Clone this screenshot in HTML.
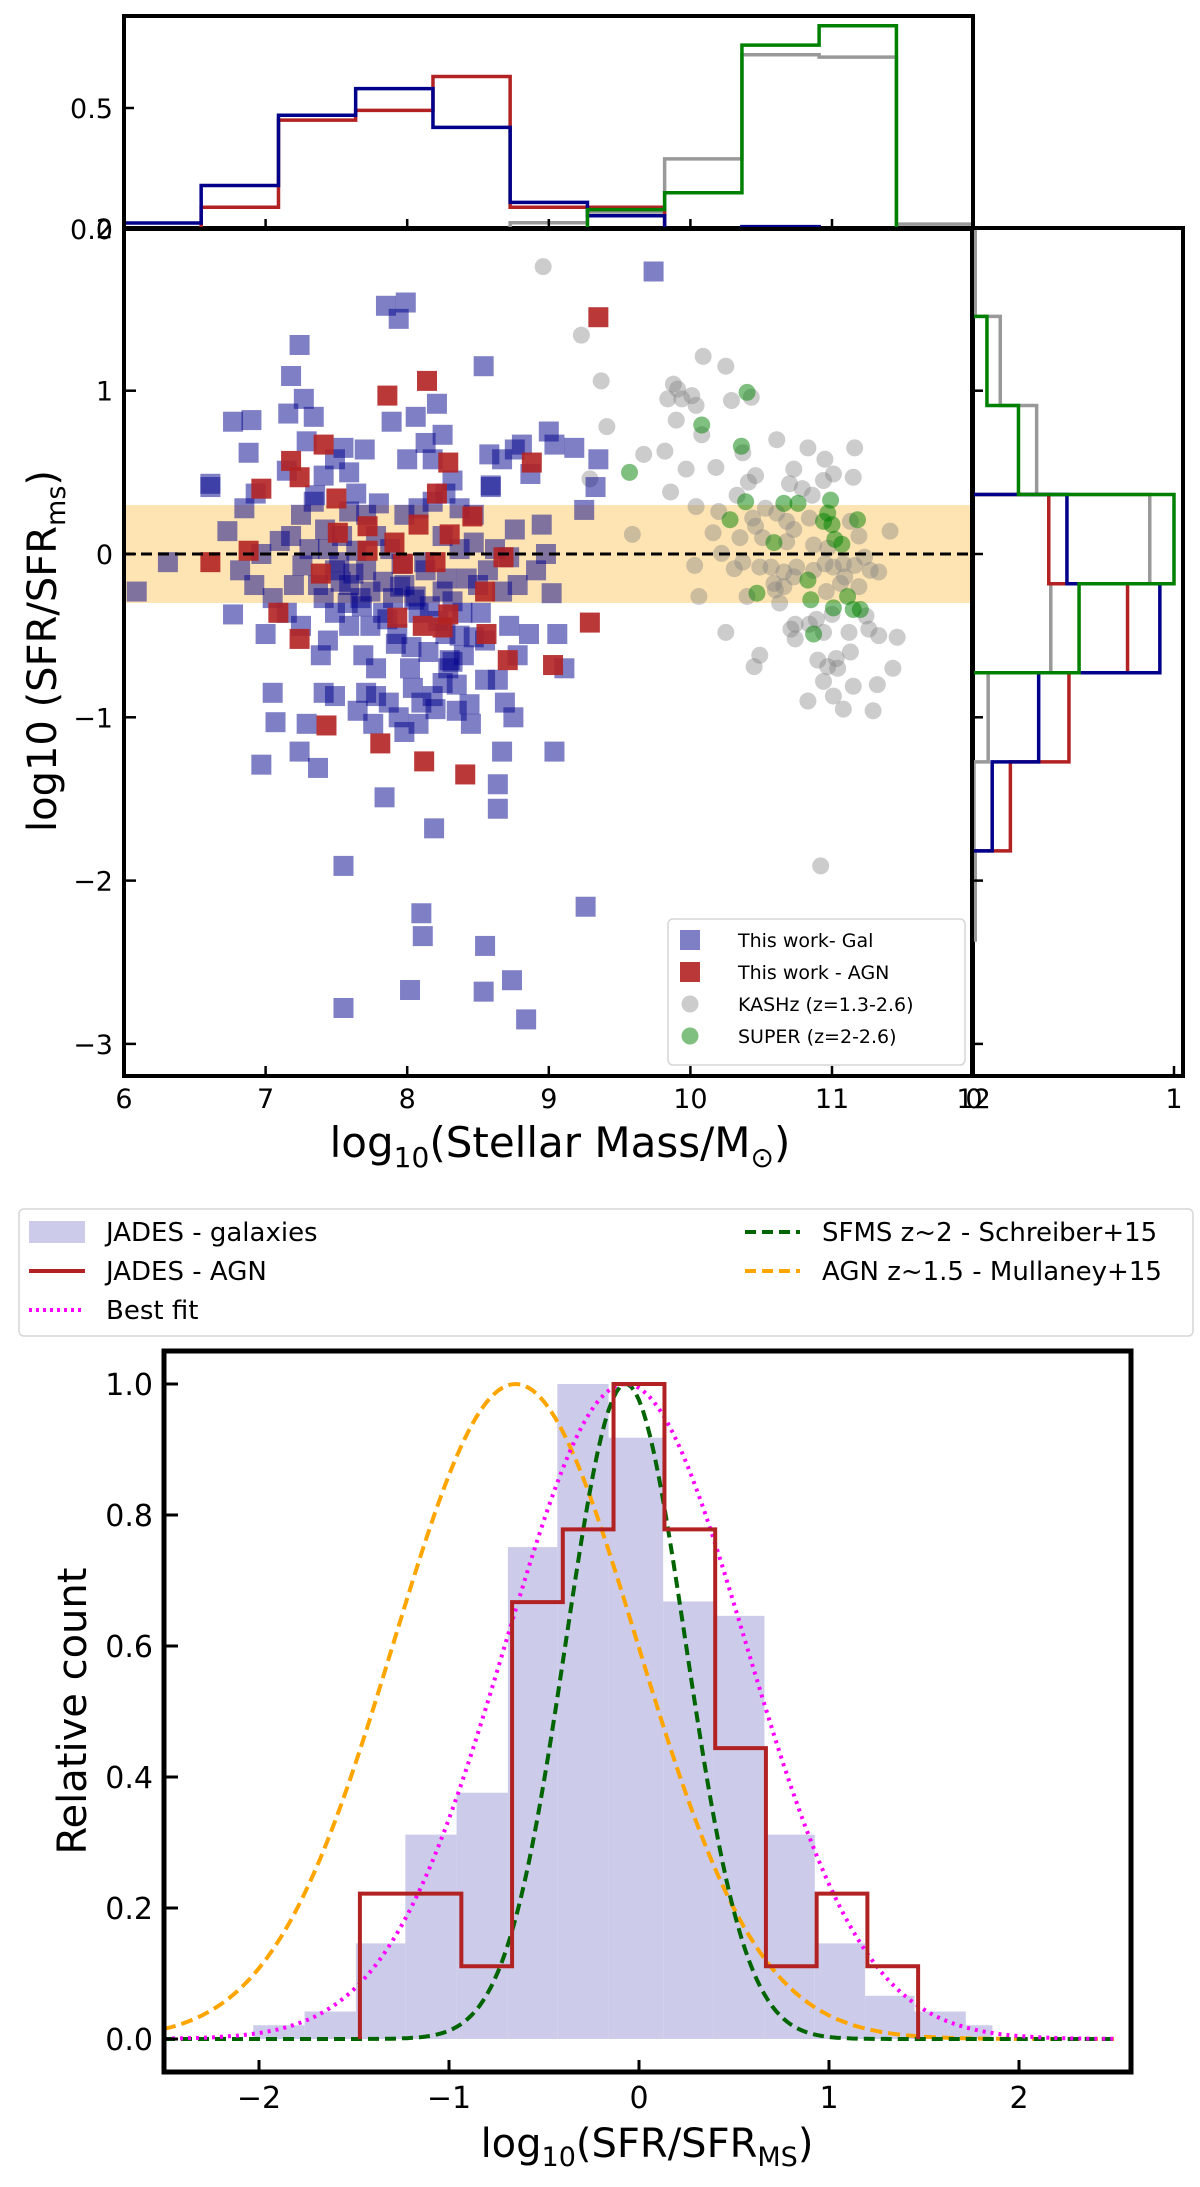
<!DOCTYPE html>
<html><head><meta charset="utf-8"><style>
html,body{margin:0;padding:0;background:#fff;}
svg{display:block;font-family:"DejaVu Sans","Liberation Sans",sans-serif;}
</style></head><body>
<svg id="fig" width="1200" height="2187" viewBox="0 0 1200 2187" xmlns="http://www.w3.org/2000/svg">
<defs>
<clipPath id="cs"><rect x="124" y="228" width="849" height="848"/></clipPath>
<clipPath id="ct"><rect x="124" y="16" width="849" height="213"/></clipPath>
<clipPath id="cr"><rect x="972" y="228" width="211" height="848"/></clipPath>
<clipPath id="cb"><rect x="164" y="1351" width="967" height="721"/></clipPath>
</defs>
<g id="scatter"></g>
<g id="tophist"></g>
<g id="righthist"></g>
<g id="bottom"></g>
</svg>
<script>
// ---------- scatter data ----------
const blueMass=[6.09,6.31,6.61,6.77,6.73,6.85,6.88,6.90,6.93,6.97,7.00,7.05,7.10,7.15,7.26,7.29,7.35,7.37,7.42,7.44,7.49,7.53,7.55,7.59,7.64,7.67,7.71,7.74,7.76,7.78,7.80,7.98,8.03,8.08,8.10,8.13,8.18,8.25,8.27,8.29,8.32,8.37,8.42,8.47,8.50,8.55,8.62,8.64,8.67,8.72,8.78,8.87,8.98,9.04,9.25,9.33,9.35,9.74,
7.85,7.99,7.94,7.24,7.18,7.27,7.16,7.34,6.77,8.54,8.21,7.89,8.25,9.00,8.58,8.76,8.59,6.61,7.70,8.95,
7.55,8.10,8.11,8.19,7.55,8.02,8.55,8.54,8.74,8.84,8.64,8.64,9.26,7.84,7.24,6.97,7.37,7.07,
7.29,7.41,7.65,7.71,7.87,7.94,7.98,8.04,8.18,8.25,8.32,8.40,8.47,8.52,8.55,8.37,8.22,8.08,7.93,7.83,7.69,7.59,7.49,7.41,7.49,7.59,7.74,7.83,7.90,7.98,8.06,8.16,8.25,8.32,8.39,7.96,7.88,7.78,7.71,7.64,7.59,7.49,7.41,7.34,7.25,7.18,8.08,8.18,8.27,8.37,8.47,8.57,8.67,8.72,8.78,8.86,8.76,8.91,9.02,9.06,9.11,8.69,8.75,8.35,8.45,7.78,7.39,7.25,7.15,7.05,6.92,6.82,7.20,7.31,7.44,7.54,8.13,8.00,8.06,8.59,8.67,8.81,9.18,9.04,
7.95,8.05,7.62,7.68,8.12,8.28,7.86,7.92,8.02,8.15,8.35,8.44,7.52,7.58,8.20,8.30];
const blueSfr=[-0.23,-0.05,0.43,-0.37,0.14,0.28,0.62,0.82,0.37,0.00,-0.49,-0.85,0.08,0.51,-0.07,0.69,0.36,-0.19,0.15,-0.53,-0.87,-0.17,0.65,0.26,0.02,-0.27,-0.10,-0.44,-1.04,-0.70,0.31,0.24,-0.57,-1.04,-0.91,-0.10,0.58,0.11,-0.49,-0.70,0.45,0.03,-0.15,0.24,-0.19,-0.53,0.03,-0.77,-1.21,-0.02,-0.19,0.49,0.00,-1.21,0.27,0.41,0.58,1.73,
1.52,1.54,1.44,1.28,1.09,0.95,0.86,0.84,0.81,1.15,0.92,0.81,0.73,0.75,0.61,0.64,0.42,0.41,0.64,0.18,
-1.91,-2.20,-2.34,-1.68,-2.78,-2.67,-2.40,-2.68,-2.61,-2.85,-1.41,-1.56,-2.16,-1.49,-1.21,-1.29,-1.31,-1.03,
-1.04,-0.85,-0.96,-0.85,-0.91,-1.00,-1.09,-0.82,-0.87,-0.79,-0.66,-0.62,-0.51,-0.36,-0.77,-0.50,-0.41,-0.36,-0.49,-0.36,-0.62,-0.44,-0.36,-0.27,-0.10,-0.19,-0.23,-0.17,-0.27,-0.19,-0.26,-0.32,-0.23,-0.29,-0.36,-0.06,0.03,0.11,0.24,0.37,0.50,0.58,0.48,0.32,0.24,0.11,0.28,0.32,0.37,0.28,0.07,-0.10,-0.23,-0.44,-0.62,-0.49,0.15,-0.10,-0.24,-0.49,-0.70,-0.91,-1.00,-0.96,-1.04,-0.87,-0.62,-0.44,-0.36,-0.27,-0.19,-0.10,-0.19,0.03,0.03,0.11,0.68,0.58,0.84,0.41,0.58,0.67,0.65,0.67,
-0.20,-0.28,-0.12,-0.32,-0.05,-0.15,-0.40,-0.55,-0.70,-0.60,-0.80,-0.92,-0.05,-0.30,-0.95,-0.65];
const redMass=[7.86,8.14,8.21,8.29,8.46,8.88,7.41,7.18,7.24,6.97,6.88,7.50,7.51,7.72,7.72,7.91,8.08,8.30,7.97,8.20,8.68,7.39,8.55,7.09,7.93,8.11,8.29,8.25,7.24,8.56,8.71,9.03,7.43,7.81,8.12,8.41,9.35,9.29,6.61];
const redSfr=[0.97,1.06,0.37,0.56,0.23,0.56,0.67,0.57,0.47,0.40,0.02,0.34,0.13,0.17,0.02,0.07,0.18,0.12,-0.06,-0.05,-0.02,-0.12,-0.23,-0.36,-0.39,-0.44,-0.37,-0.45,-0.52,-0.49,-0.65,-0.68,-1.05,-1.16,-1.27,-1.35,1.45,-0.42,-0.05];
const kashzMass=[9.23,10.09,10.25,9.37,9.88,9.91,10.01,9.84,9.94,10.04,10.29,10.43,9.90,10.08,9.41,10.61,10.83,11.16,9.67,9.82,9.97,10.18,10.37,10.95,10.73,11.01,11.15,10.46,10.41,10.94,9.86,10.70,10.79,10.86,10.33,10.04,10.20,10.53,10.61,10.68,10.73,10.44,10.46,10.35,9.59,10.16,10.84,11.13,11.19,11.41,10.51,10.68,10.87,10.97,10.22,10.03,10.31,10.37,10.49,10.57,10.66,10.73,10.95,11.01,11.08,11.16,11.23,11.33,11.27,10.59,10.66,10.60,10.75,10.87,11.09,11.19,10.96,10.06,10.40,10.63,11.06,10.89,11.00,11.24,10.74,10.71,10.84,10.25,10.74,10.94,11.12,11.26,11.33,11.46,10.49,10.45,10.90,11.03,10.97,11.04,11.13,11.43,10.94,11.15,11.32,11.01,10.83,11.08,11.29,9.29,8.96,10.92];
const kashzSfr=[1.34,1.21,1.15,1.06,1.04,1.01,0.97,0.95,0.95,0.91,0.94,0.96,0.82,0.73,0.78,0.70,0.65,0.65,0.61,0.63,0.52,0.53,0.62,0.58,0.52,0.49,0.47,0.48,0.44,0.45,0.38,0.43,0.40,0.36,0.36,0.29,0.26,0.28,0.25,0.20,0.15,0.22,0.17,0.10,0.12,0.13,0.22,0.20,0.11,0.14,0.10,0.075,0.055,0.035,0.004,-0.07,-0.09,-0.05,-0.08,-0.08,-0.11,-0.14,-0.06,-0.08,-0.06,-0.07,-0.02,-0.11,-0.10,-0.18,-0.20,-0.22,-0.08,-0.10,-0.14,-0.20,-0.23,-0.26,-0.26,-0.30,-0.18,-0.40,-0.37,-0.38,-0.43,-0.46,-0.43,-0.48,-0.52,-0.48,-0.48,-0.46,-0.50,-0.51,-0.62,-0.69,-0.65,-0.64,-0.69,-0.70,-0.60,-0.70,-0.78,-0.81,-0.80,-0.87,-0.90,-0.95,-0.96,0.46,1.76,-1.91];
const superMass=[10.40,10.08,10.36,9.57,10.39,10.66,10.76,10.99,10.28,10.97,10.94,11.00,11.18,10.59,11.02,11.07,10.83,10.47,10.85,11.11,11.01,11.15,11.20,10.87];
const superSfr=[0.99,0.79,0.66,0.50,0.32,0.31,0.31,0.33,0.21,0.25,0.20,0.18,0.21,0.07,0.09,0.06,-0.16,-0.24,-0.28,-0.26,-0.33,-0.34,-0.34,-0.49];
// ---------- marginal histograms ----------
const massEdges=[6,6.545,7.091,7.636,8.182,8.727,9.273,9.818,10.364,10.909,11.455,12];
const massHistBlue=[0.025,0.18,0.47,0.58,0.42,0.11,0.055,0,0.01,0,0];
const massHistRed=[0,0.09,0.45,0.49,0.63,0.09,0.09,0,0,0,0];
const massHistGrey=[0,0,0,0,0,0.026,0.07,0.29,0.72,0.71,0.02];
const massHistGreen=[0,0,0,0,0,0,0.08,0.15,0.76,0.84,0];
const sfrEdges=[2,1.455,0.909,0.364,-0.182,-0.727,-1.273,-1.818,-2.364,-2.909,-3.455,-4];
const sfrHistGrey=[0.016,0.14,0.32,0.88,0.39,0.08,0.01,0.016,0,0,0];
const sfrHistGreen=[0,0.074,0.23,1.0,0.53,0,0,0,0,0,0];
const sfrHistRed=[0,0,0,0.38,0.77,0.48,0.19,0,0,0,0];
const sfrHistBlue=[0,0,0,0.47,0.93,0.33,0.10,0,0,0,0];
// ---------- bottom panel ----------
const galEdges=[-2.03,-1.76,-1.49,-1.23,-0.96,-0.69,-0.43,-0.16,0.127,0.39,0.66,0.925,1.19,1.45,1.72,1.86];
const galCounts=[0.021,0.042,0.146,0.312,0.376,0.751,1.0,0.918,0.668,0.646,0.312,0.146,0.066,0.042,0.021];
const agnEdges=[-1.469,-1.202,-0.935,-0.668,-0.401,-0.134,0.134,0.401,0.668,0.935,1.202,1.469];
const agnCounts=[0.222,0.222,0.111,0.667,0.778,1.0,0.778,0.444,0.111,0.222,0.111];
const gaussNames=["mullaney","schreiber","bestfit"];
const gaussMu=[-0.65,-0.07,-0.07];
const gaussSigma=[0.64,0.315,0.63];
const xTicksMass=[6,7,8,9,10,11,12];
const yTicksSfr=[1,0,-1,-2,-3];
const bxTicks=[-2,-1,0,1,2];
const byTicks=[0,0.2,0.4,0.6,0.8,1.0];

const NS="http://www.w3.org/2000/svg";
function mk(parent,tag,attrs,text){const e=document.createElementNS(NS,tag);for(const k in attrs)e.setAttribute(k,attrs[k]);if(text!==undefined)e.textContent=text;parent.appendChild(e);return e;}
const fmtMinus=v=>String(v).replace('-','\u2212');

// scales
const X=m=>124+(m-6)*141.6;
const Y=v=>554-v*163.3;
const HY=h=>229-h*242;
const RX=h=>972+h*202;
const BX=v=>639+v*190;
const BY=c=>2039-c*655;

// ================= SCATTER =================
const sc=document.getElementById('scatter');
let e;
e=mk(sc,'rect',{x:124,y:Y(0.3),width:849,height:Y(-0.3)-Y(0.3),fill:'#ffe4b3'});


const pts=mk(sc,'g',{'clip-path':'url(#cs)'});
kashzMass.forEach((m,i)=>{const c=mk(pts,'circle',{cx:X(m),cy:Y(kashzSfr[i]),r:8.5,fill:'#808080','fill-opacity':0.4});

});
superMass.forEach((m,i)=>{const c=mk(pts,'circle',{cx:X(m),cy:Y(superSfr[i]),r:8.5,fill:'#008000','fill-opacity':0.5});

});
blueMass.forEach((m,i)=>{const r=mk(pts,'rect',{x:X(m)-10,y:Y(blueSfr[i])-10,width:20,height:20,fill:'#00008b','fill-opacity':0.5});

});
redMass.forEach((m,i)=>{const r=mk(pts,'rect',{x:X(m)-10,y:Y(redSfr[i])-10,width:20,height:20,fill:'#b22222','fill-opacity':0.9});

});
e=mk(sc,'line',{x1:124,x2:973,y1:Y(0),y2:Y(0),stroke:'#000','stroke-width':3,'stroke-dasharray':'11,6'});


// ticks
xTicksMass.forEach(t=>{
 if(t>6&&t<12) mk(sc,'line',{x1:X(t),x2:X(t),y1:1076,y2:1066,stroke:'#000','stroke-width':2.5});
 const l=mk(sc,'text',{x:X(t),y:1108,'text-anchor':'middle','font-size':27},String(t));
 
 
});
yTicksSfr.forEach(t=>{
 mk(sc,'line',{x1:124,x2:136,y1:Y(t),y2:Y(t),stroke:'#000','stroke-width':2.5});
 const l=mk(sc,'text',{x:113,y:Y(t)+10,'text-anchor':'end','font-size':27},fmtMinus(t));
 
 
});
e=mk(sc,'text',{x:113,y:238,'text-anchor':'end','font-size':27},'2');


e=mk(sc,'rect',{x:124,y:228,width:849,height:848,fill:'none',stroke:'#000','stroke-width':4});


// axis labels
e=mk(sc,'text',{x:560,y:1157,'text-anchor':'middle','font-size':42});


e.innerHTML='log<tspan font-size="28" dy="10">10</tspan><tspan dy="-10">(Stellar Mass/M</tspan><tspan font-size="28" dy="10">\u2299</tspan><tspan dy="-10">)</tspan>';
e=mk(sc,'text',{x:0,y:0,'text-anchor':'middle','font-size':40,transform:'translate(56,651) rotate(-90)'});


e.innerHTML='log10 (SFR/SFR<tspan font-size="27" dy="9">ms</tspan><tspan dy="-9">)</tspan>';
// legend
const lg=mk(sc,'g',{});


mk(lg,'rect',{x:668,y:919,width:297,height:146,rx:5,fill:'#fff','fill-opacity':0.85,stroke:'#d6d6d6','stroke-width':1.5});
const legItems=[['This work- Gal','sq','#00008b',0.5],['This work - AGN','sq','#b22222',0.9],['KASHz (z=1.3-2.6)','ci','#808080',0.4],['SUPER (z=2-2.6)','ci','#008000',0.5]];
legItems.forEach((it,i)=>{
 const yy=940+i*32;
 const g=mk(lg,'g',{});
 
 
 if(it[1]==='sq') mk(g,'rect',{x:680,y:yy-10,width:20,height:20,fill:it[2],'fill-opacity':it[3]});
 else mk(g,'circle',{cx:690,cy:yy,r:8.5,fill:it[2],'fill-opacity':it[3]});
 mk(g,'text',{x:738,y:yy+7,'font-size':19},it[0]);
});

// ================= TOP HIST =================
const th=document.getElementById('tophist');
function stepV(edges,vals){let d=`M${X(edges[0])},${HY(0)}`;vals.forEach((v,i)=>{d+=` L${X(edges[i])},${HY(v)} L${X(edges[i+1])},${HY(v)}`;});d+=` L${X(edges[edges.length-1])},${HY(0)}`;return d;}
const thc=mk(th,'g',{'clip-path':'url(#ct)'});
[['grey',massHistGrey,'#999999'],['red',massHistRed,'#b22222'],['blue',massHistBlue,'#00008b'],['green',massHistGreen,'#008000']].forEach(s=>{
 const p=mk(thc,'path',{d:stepV(massEdges,s[1]),fill:'none',stroke:s[2],'stroke-width':3.5});
 
 
});
[7,8,9,10,11].forEach(t=>mk(th,'line',{x1:X(t),x2:X(t),y1:229,y2:219,stroke:'#000','stroke-width':2.5}));
mk(th,'line',{x1:124,x2:134,y1:HY(0.5),y2:HY(0.5),stroke:'#000','stroke-width':2.5});
e=mk(th,'text',{x:113,y:HY(0.5)+10,'text-anchor':'end','font-size':27},'0.5');


e=mk(th,'text',{x:113,y:239,'text-anchor':'end','font-size':27},'0.0');


e=mk(th,'rect',{x:124,y:16,width:849,height:213,fill:'none',stroke:'#000','stroke-width':4});



// ================= RIGHT HIST =================
const rh=document.getElementById('righthist');
function stepH(edges,vals){let d=`M${RX(0)},${Y(edges[0])}`;vals.forEach((v,i)=>{d+=` L${RX(v)},${Y(edges[i])} L${RX(v)},${Y(edges[i+1])}`;});d+=` L${RX(0)},${Y(edges[edges.length-1])}`;return d;}
const rhc=mk(rh,'g',{'clip-path':'url(#cr)'});
[['grey',sfrHistGrey,'#999999'],['red',sfrHistRed,'#b22222'],['blue',sfrHistBlue,'#00008b'],['green',sfrHistGreen,'#008000']].forEach(s=>{
 const p=mk(rhc,'path',{d:stepH(sfrEdges,s[1]),fill:'none',stroke:s[2],'stroke-width':3.5});
 
 
});
yTicksSfr.forEach(t=>mk(rh,'line',{x1:972,x2:983,y1:Y(t),y2:Y(t),stroke:'#000','stroke-width':2.5}));
mk(rh,'line',{x1:RX(1),x2:RX(1),y1:1076,y2:1066,stroke:'#000','stroke-width':2.5});
e=mk(rh,'text',{x:974,y:1108,'text-anchor':'middle','font-size':27},'0');


e=mk(rh,'text',{x:RX(1),y:1108,'text-anchor':'middle','font-size':27},'1');


e=mk(rh,'rect',{x:972,y:228,width:211,height:848,fill:'none',stroke:'#000','stroke-width':4});



// ================= BOTTOM PANEL =================
const bt=document.getElementById('bottom');
// legend
const bl=mk(bt,'g',{});


mk(bl,'rect',{x:19,y:1209,width:1174,height:127,rx:5,fill:'#fff',stroke:'#d6d6d6','stroke-width':1.5});
let g;
g=mk(bl,'g',{});
mk(g,'rect',{x:29,y:1221,width:56,height:22,fill:'#ccccea'});
mk(g,'text',{x:106,y:1241,'font-size':26},'JADES - galaxies');
g=mk(bl,'g',{});
mk(g,'line',{x1:29,x2:85,y1:1271,y2:1271,stroke:'#b22222','stroke-width':4});
mk(g,'text',{x:106,y:1280,'font-size':26},'JADES - AGN');
g=mk(bl,'g',{});
mk(g,'line',{x1:29,x2:85,y1:1310,y2:1310,stroke:'#ff00ff','stroke-width':4,'stroke-dasharray':'3,4'});
mk(g,'text',{x:106,y:1319,'font-size':26},'Best fit');
g=mk(bl,'g',{});
mk(g,'line',{x1:745,x2:800,y1:1232,y2:1232,stroke:'#006400','stroke-width':4,'stroke-dasharray':'11,6'});
mk(g,'text',{x:822,y:1241,'font-size':26},'SFMS z~2 - Schreiber+15');
g=mk(bl,'g',{});
mk(g,'line',{x1:745,x2:800,y1:1271,y2:1271,stroke:'#ffa500','stroke-width':4,'stroke-dasharray':'11,6'});
mk(g,'text',{x:822,y:1280,'font-size':26},'AGN z~1.5 - Mullaney+15');

const bc=mk(bt,'g',{'clip-path':'url(#cb)'});
galCounts.forEach((c,i)=>{const r=mk(bc,'rect',{x:BX(galEdges[i]),y:BY(c),width:BX(galEdges[i+1])-BX(galEdges[i]),height:BY(0)-BY(c),fill:'#ccccea'});

});
function gaussPath(mu,s){let d='';for(let k=0;k<=250;k++){const x=-2.5+k*0.02;const y=Math.exp(-0.5*((x-mu)/s)**2);d+=(k?' L':'M')+BX(x).toFixed(1)+','+BY(y).toFixed(1);}return d;}
const gStyles={mullaney:['#ffa500','12,6'],schreiber:['#006400','11,6'],bestfit:['#ff00ff','3,5']};
gaussNames.forEach((n,i)=>{const p=mk(bc,'path',{d:gaussPath(gaussMu[i],gaussSigma[i]),fill:'none',stroke:gStyles[n][0],'stroke-width':4,'stroke-dasharray':gStyles[n][1]});

});
let ad=`M${BX(agnEdges[0])},${BY(0)}`;
agnCounts.forEach((c,i)=>{ad+=` L${BX(agnEdges[i])},${BY(c)} L${BX(agnEdges[i+1])},${BY(c)}`;});
ad+=` L${BX(agnEdges[agnEdges.length-1])},${BY(0)}`;
e=mk(bc,'path',{d:ad,fill:'none',stroke:'#b22222','stroke-width':4});


bxTicks.forEach(t=>{
 mk(bt,'line',{x1:BX(t),x2:BX(t),y1:2072,y2:2060,stroke:'#000','stroke-width':3});
 const l=mk(bt,'text',{x:BX(t),y:2108,'text-anchor':'middle','font-size':30},fmtMinus(t));
 
 
});
byTicks.forEach(t=>{
 mk(bt,'line',{x1:164,x2:178,y1:BY(t),y2:BY(t),stroke:'#000','stroke-width':3});
 const l=mk(bt,'text',{x:153,y:BY(t)+11,'text-anchor':'end','font-size':30},t.toFixed(1));
 
 
});
e=mk(bt,'rect',{x:164,y:1351,width:967,height:721,fill:'none',stroke:'#000','stroke-width':5});


e=mk(bt,'text',{x:0,y:0,'text-anchor':'middle','font-size':40,transform:'translate(86,1711) rotate(-90)'},'Relative count');


e=mk(bt,'text',{x:647,y:2157,'text-anchor':'middle','font-size':40});


e.innerHTML='log<tspan font-size="27" dy="9">10</tspan><tspan dy="-9">(SFR/SFR</tspan><tspan font-size="27" dy="9">MS</tspan><tspan dy="-9">)</tspan>';
</script>
</body></html>
